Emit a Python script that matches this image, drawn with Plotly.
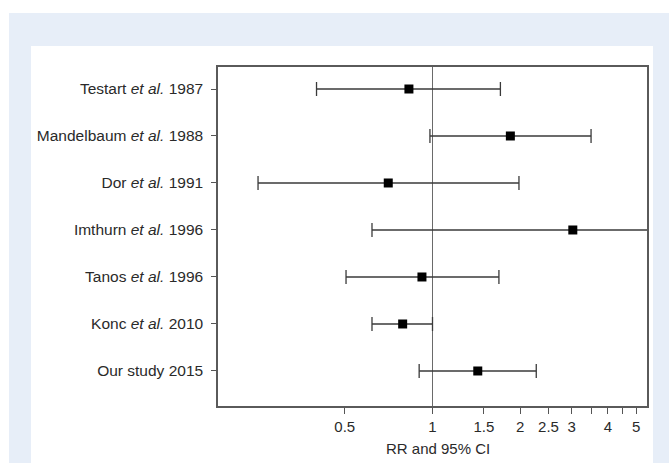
import plotly.graph_objects as go

studies = ["Testart <i>et al.</i> 1987", "Mandelbaum <i>et al.</i> 1988", "Dor <i>et al.</i> 1991",
           "Imthurn <i>et al.</i> 1996", "Tanos <i>et al.</i> 1996", "Konc <i>et al.</i> 2010",
           "Our study 2015"]
rr = [0.83, 1.85, 0.705, 3.03, 0.92, 0.79, 1.43]
ci_low = [0.40, 0.98, 0.252, 0.62, 0.505, 0.62, 0.90]
ci_high = [1.71, 3.50, 1.98, 6.5, 1.69, 1.0, 2.27]
tick_vals = [0.5, 1, 1.5, 2, 2.5, 3, 3.5, 4, 4.5, 5]
tick_text = ["0.5", "1", "1.5", "2", "2.5", "3", "", "4", "", "5"]

n = len(studies)
ypos = [n - i for i in range(n)]

# pixel layout
W, H = 669, 463
L, R, T, B = 218, 647, 67, 406
pw, ph = R - L, B - T
def px(x): return (x - L) / pw
def py(y): return (B - y) / ph

line_col = "#3a3a3a"
xs, ys = [], []
for lo, hi, y in zip(ci_low, ci_high, ypos):
    xs += [lo, hi, None]
    ys += [y, y, None]

fig = go.Figure()
fig.add_trace(go.Scatter(x=xs, y=ys, mode="lines", line=dict(color=line_col, width=1.3),
                         hoverinfo="skip", showlegend=False))
fig.add_trace(go.Scatter(x=ci_low + ci_high, y=ypos + ypos, mode="markers",
                         marker=dict(symbol="line-ns", size=10, line=dict(color=line_col, width=1.3)),
                         hoverinfo="skip", showlegend=False))
fig.add_trace(go.Scatter(x=rr, y=ypos, mode="markers",
                         marker=dict(symbol="square", size=9, color="black"),
                         showlegend=False))

fig.add_shape(type="rect", xref="paper", yref="paper", x0=px(9), x1=px(W + 5), y0=py(13), y1=py(H + 5),
              fillcolor="#e7eef8", line=dict(width=0), layer="below")
fig.add_shape(type="rect", xref="paper", yref="paper", x0=px(31), x1=px(653), y0=py(46), y1=py(H + 5),
              fillcolor="white", line=dict(width=0), layer="below")
fig.add_shape(type="line", xref="x", yref="paper", x0=1, x1=1, y0=0, y1=1,
              line=dict(color="#6a6a6a", width=1), layer="below")

fig.add_annotation(text="RR and 95% CI", xref="paper", yref="paper", x=px(438), y=py(448),
                   showarrow=False, font=dict(size=15, color="#2a2a2a"), xanchor="center", yanchor="middle")

fig.update_xaxes(type="log", range=[-0.736, 0.736], tickvals=tick_vals, ticktext=tick_text,
                 ticks="outside", ticklen=6, tickcolor="#555", showgrid=False, zeroline=False,
                 showline=True, linecolor="#5a5a5a", linewidth=1.5, mirror=True,
                 tickfont=dict(size=15, color="#2a2a2a"))
fig.update_yaxes(range=[0.255, 7.468], tickvals=ypos, ticktext=studies, ticks="outside", ticklen=5,
                 tickcolor="#555", showgrid=False, zeroline=False, showline=True, linecolor="#5a5a5a",
                 linewidth=1.5, mirror=True, tickfont=dict(size=15.5, color="#2a2a2a"),
                 ticklabelstandoff=5)

fig.update_layout(width=W, height=H, margin=dict(l=L, r=W - R, t=T, b=H - B, autoexpand=False),
                  paper_bgcolor="white", plot_bgcolor="white",
                  font=dict(family="Liberation Sans, Arial, sans-serif"))
fig.write_html("out.html", config={"displayModeBar": False},
               post_script="document.body.style.margin='0';document.body.style.overflow='hidden';")
